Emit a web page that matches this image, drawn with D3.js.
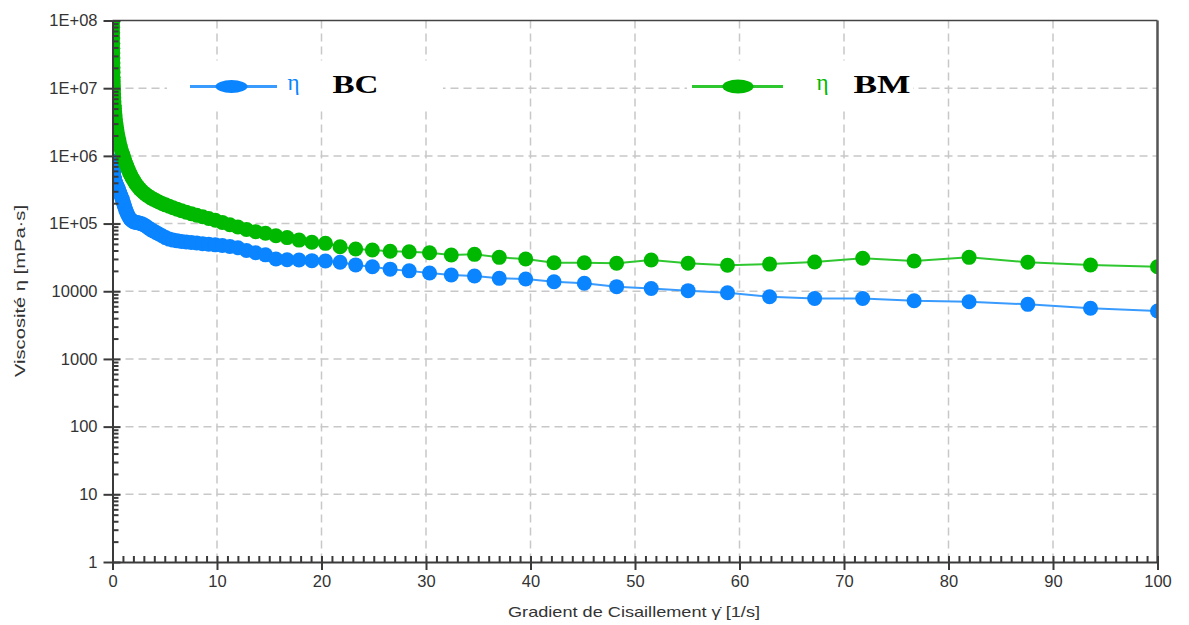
<!DOCTYPE html>
<html>
<head>
<meta charset="utf-8">
<title>Viscosité BC / BM</title>
<script src="https://d3js.org/d3.v7.min.js"></script>
<style>
body { margin: 0; background: #fff; }
.axis text { font-family: "Liberation Sans", Arial, sans-serif; font-size: 16.5px; fill: #333; }
.axis path, .axis line { stroke: #3a3a3a; stroke-width: 2; }
.grid line { stroke: #c8c8c8; stroke-width: 1.5; stroke-dasharray: 8,5; }
.lbl { font-family: "Liberation Sans", Arial, sans-serif; font-size: 15px; fill: #333; }
</style>
</head>
<body>
<script>
// shear rate [1/s]
var shearRate = [
  0.01,0.0114,0.013,0.0149,0.017,0.0194,0.0222,0.0253,0.0289,0.033,
  0.0377,0.043,0.0491,0.0561,0.064,0.0731,0.0835,0.0953,0.109,0.124,
  0.142,0.162,0.185,0.211,0.241,0.275,0.314,0.359,0.41,0.468,
  0.534,0.61,0.697,0.795,0.908,0.97,1.03,1.10,1.18,1.26,
  1.35,1.44,1.54,1.64,1.76,1.88,2.01,2.14,2.29,2.45,
  2.61,2.79,2.99,3.19,3.41,3.64,3.89,4.16,4.44,4.75,
  5.07,5.42,5.79,6.19,6.61,7.06,7.55,8.06,8.62,9.21,
  9.84,10.51,11.23,12.00,12.82,13.70,14.64,15.64,16.71,17.85,
  19.08,20.38,21.78,23.27,24.87,26.57,28.39,30.34,32.42,34.64,
  37.01,39.54,42.25,45.15,48.24,51.55,55.08,58.85,62.88,67.19,
  71.79,76.71,81.97,87.59,93.59,100
];
// viscosity BC [mPa.s]
var etaBC = [
  8.5e5,8.3e5,8.1e5,7.9e5,7.7e5,7.5e5,7.3e5,7.1e5,6.9e5,6.7e5,
  6.5e5,6.3e5,6.1e5,5.9e5,5.75e5,5.6e5,5.45e5,5.3e5,5.15e5,5.0e5,
  4.85e5,4.7e5,4.55e5,4.4e5,4.25e5,4.1e5,3.95e5,3.8e5,3.65e5,3.5e5,
  3.3e5,3.1e5,2.85e5,2.6e5,2.35e5,2.2e5,2.05e5,1.9e5,1.75e5,1.6e5,
  1.48e5,1.37e5,1.28e5,1.2e5,1.14e5,1.1e5,1.07e5,1.05e5,1.04e5,1.03e5,
  1.01e5,9.9e4,9.6e4,9.2e4,8.7e4,8.2e4,7.8e4,7.4e4,7.0e4,6.6e4,
  6.2e4,5.9e4,5.7e4,5.55e4,5.45e4,5.35e4,5.25e4,5.15e4,5.05e4,4.95e4,
  4.85e4,4.75e4,4.6e4,4.4e4,4.0e4,3.7e4,3.45e4,3.0e4,2.92e4,2.9e4,
  2.83e4,2.8e4,2.68e4,2.45e4,2.3e4,2.12e4,2.0e4,1.86e4,1.74e4,1.68e4,
  1.55e4,1.52e4,1.38e4,1.31e4,1.17e4,1.10e4,1.02e4,9.5e3,8.3e3,7.8e3,
  7.8e3,7.25e3,7.0e3,6.4e3,5.6e3,5.1e3
];
// viscosity BM [mPa.s]
var etaBM = [
  1.6e8,1.33e8,1.12e8,9.4e7,7.9e7,6.6e7,5.5e7,4.6e7,3.9e7,3.3e7,
  2.8e7,2.35e7,2.0e7,1.7e7,1.45e7,1.25e7,1.08e7,9.4e6,8.2e6,7.2e6,
  6.3e6,5.6e6,5.0e6,4.45e6,3.95e6,3.5e6,3.12e6,2.78e6,2.45e6,2.17e6,
  1.92e6,1.68e6,1.48e6,1.3e6,1.13e6,1.05e6,9.8e5,9.1e5,8.4e5,7.8e5,
  7.2e5,6.6e5,6.1e5,5.6e5,5.15e5,4.75e5,4.4e5,4.05e5,3.75e5,3.5e5,
  3.25e5,3.05e5,2.85e5,2.7e5,2.55e5,2.42e5,2.3e5,2.19e5,2.08e5,1.98e5,
  1.89e5,1.8e5,1.71e5,1.63e5,1.55e5,1.47e5,1.4e5,1.33e5,1.26e5,1.19e5,
  1.12e5,1.04e5,9.6e4,8.9e4,8.2e4,7.6e4,7.2e4,6.6e4,6.2e4,5.7e4,
  5.3e4,5.1e4,4.55e4,4.2e4,4.07e4,3.9e4,3.84e4,3.71e4,3.43e4,3.51e4,
  3.17e4,2.99e4,2.64e4,2.64e4,2.59e4,2.89e4,2.59e4,2.42e4,2.52e4,2.70e4,
  3.07e4,2.80e4,3.17e4,2.68e4,2.44e4,2.30e4
];
var xTicks = [0,10,20,30,40,50,60,70,80,90,100];
var yTicks = [1,10,100,1000,10000,1e5,1e6,1e7,1e8];
var yTickLabels = ["1","10","100","1000","10000","1E+05","1E+06","1E+07","1E+08"];

var margin = {top: 20.5, right: 31.5, bottom: 63, left: 112.5},
    width = 1189 - margin.left - margin.right,
    height = 625 - margin.top - margin.bottom;

var svg = d3.select("body").append("svg")
    .attr("width", 1189)
    .attr("height", 625)
  .append("g")
    .attr("transform", "translate(" + margin.left + "," + margin.top + ")");

var x = d3.scaleLinear().domain([0, 100]).range([0, width]);
var y = d3.scaleLog().domain([1, 1e8]).range([height, 0]);

// minor tick positions
var yMinor = [];
yTicks.slice(0, -1).forEach(function(d) {
  for (var k = 2; k <= 9; k++) yMinor.push(d * k);
});
var xMinor = d3.range(0, 101, 1);

// grid
svg.append("g").attr("class", "grid")
  .selectAll("line").data(yTicks.slice(1, -1)).enter().append("line")
    .attr("x1", 0).attr("x2", width)
    .attr("y1", function(d) { return y(d); }).attr("y2", function(d) { return y(d); });
svg.append("g").attr("class", "grid")
  .selectAll("line").data(xTicks.slice(1, -1)).enter().append("line")
    .attr("y1", 0).attr("y2", height)
    .attr("x1", function(d) { return x(d); }).attr("x2", function(d) { return x(d); });

// legend
var legend = [
  {name: "BC", color: "#0a84ff", line: "#3a9bff", x0: 77.5, x1: 164.5, cx: 119, rx: 16, ry: 6.5, eta: 175, txt: 220, len: 46, box: [54.5, 330.5]},
  {name: "BM", color: "#00b800", line: "#2fc72f", x0: 579.5, x1: 670.5, cx: 625.5, rx: 15.5, ry: 7, eta: 704, txt: 741, len: 57, box: [574.5, 800.5]}
];
var lg = svg.append("g");
legend.forEach(function(l) {
  lg.append("rect").attr("x", l.box[0]).attr("y", 40).attr("width", l.box[1] - l.box[0]).attr("height", 48).attr("fill", "#fff");
  lg.append("line").attr("x1", l.x0).attr("x2", l.x1).attr("y1", 66).attr("y2", 66)
    .attr("stroke", l.line).attr("stroke-width", 3);
  lg.append("ellipse").attr("cx", l.cx).attr("cy", 66).attr("rx", l.rx).attr("ry", l.ry).attr("fill", l.color);
  lg.append("text").attr("x", l.eta).attr("y", 69).text("η")
    .attr("fill", l.color).style("font-family", "'Liberation Serif', 'Times New Roman', serif").style("font-size", "23px");
  lg.append("text").attr("x", l.txt).attr("y", 72).text(l.name)
    .attr("textLength", l.len).attr("lengthAdjust", "spacingAndGlyphs")
    .attr("fill", "#000").style("font-family", "'Liberation Serif', 'Times New Roman', serif")
    .style("font-weight", "bold").style("font-size", "25px");
});

// data
svg.append("clipPath").attr("id", "clip")
  .append("rect").attr("width", width).attr("height", height);
var plot = svg.append("g").attr("clip-path", "url(#clip)");

var series = [
  {vals: etaBC, color: "#0a84ff", line: "#3a9bff"},
  {vals: etaBM, color: "#00b800", line: "#2fc72f"}
];
series.forEach(function(s) {
  var pts = shearRate.map(function(g, i) { return {g: g, v: s.vals[i]}; });
  plot.append("path").datum(pts)
    .attr("fill", "none").attr("stroke", s.line).attr("stroke-width", 2)
    .attr("d", d3.line().x(function(d) { return x(d.g); }).y(function(d) { return y(d.v); }));
  plot.selectAll(null).data(pts).enter().append("circle")
    .attr("cx", function(d) { return x(d.g); })
    .attr("cy", function(d) { return y(d.v); })
    .attr("r", 7.5)
    .attr("fill", s.color);
});

// borders
svg.append("line").attr("x1", 0).attr("x2", width).attr("y1", 0).attr("y2", 0)
  .attr("stroke", "#444").attr("stroke-width", 1.5);
svg.append("line").attr("x1", width).attr("x2", width).attr("y1", 0).attr("y2", height)
  .attr("stroke", "#555").attr("stroke-width", 2.5);

// y axis
svg.append("g").attr("class", "axis")
  .call(d3.axisLeft(y).tickValues(yTicks)
    .tickFormat(function(d, i) { return yTickLabels[i]; })
    .tickSizeInner(9).tickSizeOuter(0).tickPadding(6));
svg.append("g").attr("class", "axis")
  .call(d3.axisRight(y).tickValues(yTicks).tickFormat("").tickSizeInner(8).tickSizeOuter(0))
  .select(".domain").remove();
svg.append("g").attr("class", "axis")
  .call(d3.axisRight(y).tickValues(yMinor).tickFormat("").tickSizeInner(6).tickSizeOuter(0))
  .select(".domain").remove();

// x axis
svg.append("g").attr("class", "axis")
  .attr("transform", "translate(0," + height + ")")
  .call(d3.axisBottom(x).tickValues(xTicks).tickSizeInner(8).tickSizeOuter(0).tickPadding(5));
svg.append("g").attr("class", "axis")
  .attr("transform", "translate(0," + height + ")")
  .call(d3.axisTop(x).tickValues(xMinor).tickFormat("").tickSizeInner(6).tickSizeOuter(0))
  .select(".domain").remove();

// axis titles
svg.append("text").attr("class", "lbl")
  .attr("x", 634 - margin.left).attr("y", 617 - margin.top)
  .attr("text-anchor", "middle")
  .attr("textLength", 252).attr("lengthAdjust", "spacingAndGlyphs")
  .text("Gradient de Cisaillement γ̇ [1/s]");
svg.append("text").attr("class", "lbl")
  .attr("transform", "rotate(-90)")
  .attr("x", -(291 - margin.top)).attr("y", 25 - margin.left)
  .attr("text-anchor", "middle")
  .attr("textLength", 172).attr("lengthAdjust", "spacingAndGlyphs")
  .text("Viscosité  η [mPa·s]");
</script>
</body>
</html>
